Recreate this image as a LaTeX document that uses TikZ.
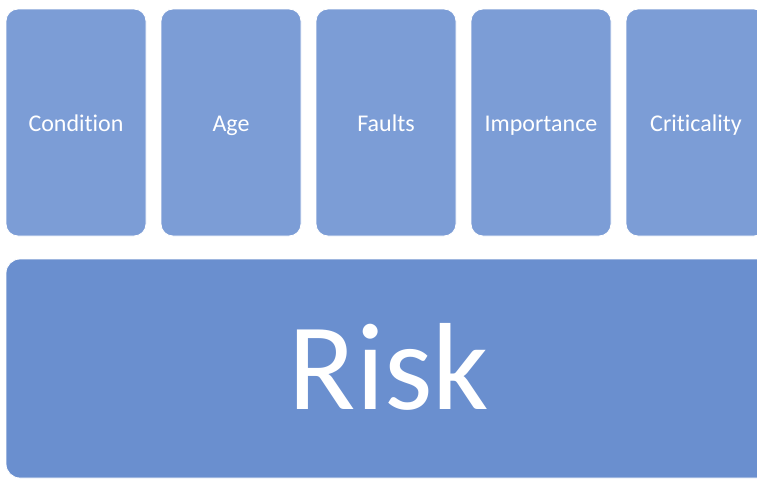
\documentclass[tikz,border=0pt]{standalone}
\usepackage{fontspec}
\setmainfont{Carlito}[Ligatures=NoCommon]
\usepackage{tikz}
\usetikzlibrary{positioning}
\definecolor{factorbg}{HTML}{7C9DD6}
\definecolor{riskbg}{HTML}{6A8FCF}
\tikzset{
  factor/.style={rectangle, rounded corners=12pt, draw=white, line width=0.8pt,
    fill=factorbg, text=white, minimum width=140pt, minimum height=227pt,
    inner sep=0pt, outer sep=0pt, font=\fontsize{24}{28}\selectfont,
    text height=17pt, text depth=0pt},
  riskbox/.style={rectangle, rounded corners=14pt, draw=white, line width=0.8pt,
    fill=riskbg, text=white, minimum width=766pt, minimum height=219pt,
    inner sep=0pt, outer sep=0pt, font=\fontsize{124}{134}\selectfont,
    text height=81pt, text depth=0pt},
}

\begin{document}
\begin{tikzpicture}[x=1pt, y=-1pt, node distance=15pt]
\useasboundingbox (0,0) rectangle (757,479);
\clip (0,0) rectangle (757,479);

% ---- factors ----
\node[factor] (cond) at (76,122.5) {Condition};
\node[factor, right=of cond] (age) {Age};
\node[factor, right=of age] (faults) {Faults};
\node[factor, right=of faults] (imp) {Importance};
\node[factor, right=of imp] (crit) {Criticality};

% ---- risk ----
\node[riskbox] (risk) at (389,368.5) {Risk};

\end{tikzpicture}
\end{document}
